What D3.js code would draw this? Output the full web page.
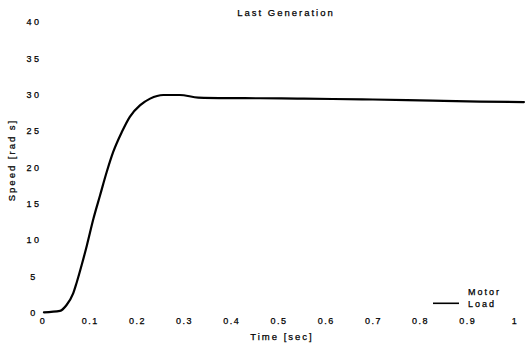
<!DOCTYPE html>
<html>
<head>
<meta charset="utf-8">
<script src="https://cdn.jsdelivr.net/npm/d3@7"></script>
<style>
  html, body { margin: 0; padding: 0; background: #fff; }
  svg { display: block; }
  text { font-family: "Liberation Sans", Arial, Helvetica, sans-serif; fill: #000; stroke: #000; stroke-width: 0.25px; }
</style>
</head>
<body>
<svg id="chart" width="529" height="347"></svg>
<script>
// Speed response of the best controller in the final generation
const timeSec = [0.003, 0.037, 0.051, 0.065, 0.072, 0.083, 0.094, 0.108, 0.122, 0.136,
                 0.150, 0.168, 0.185, 0.207, 0.228, 0.256, 0.291, 0.330, 0.400, 0.461,
                 0.540, 0.615, 0.700, 0.772, 0.850, 0.927, 1.020];
const loadSpeed = [0.0, 0.2, 1.0, 2.6, 4.0, 6.5, 9.2, 12.9, 16.1, 19.3,
                   22.1, 24.8, 26.9, 28.5, 29.4, 29.9, 29.9, 29.55, 29.47, 29.45,
                   29.4, 29.35, 29.28, 29.2, 29.1, 29.0, 28.93];
const xTicks = [0, 0.1, 0.2, 0.3, 0.4, 0.5, 0.6, 0.7, 0.8, 0.9, 1];
const xTickLabels = ["0", "0.1", "0.2", "0.3", "0.4", "0.5", "0.6", "0.7", "0.8", "0.9", "1"];
const yTicks = [0, 5, 10, 15, 20, 25, 30, 35, 40];
const legendNames = ["Motor", "Load"];

const svg = d3.select("#chart");

const x = d3.scaleLinear().domain([0, 1]).range([42.5, 514.5]);
const y = d3.scaleLinear().domain([0, 40]).range([312.3, 21.6]);

// Axes drawn as labels only (no domain line, no tick marks)
const xAxis = d3.axisBottom(x)
  .tickValues(xTicks)
  .tickSize(0)
  .tickPadding(0)
  .tickFormat((d, i) => xTickLabels[i]);
const gx = svg.append("g").attr("transform", "translate(0,318)").call(xAxis);
gx.select(".domain").remove();
gx.selectAll("text")
  .attr("fill", "#000")
  .style("font-size", "9px")
  .style("letter-spacing", "1.5px")
  .attr("dy", "0.71em");

const yAxis = d3.axisLeft(y)
  .tickValues(yTicks)
  .tickSize(0)
  .tickPadding(0)
  .tickFormat(d3.format("d"));
const gy = svg.append("g").attr("transform", "translate(34,0)").call(yAxis);
gy.select(".domain").remove();
gy.selectAll("text")
  .attr("fill", "#000")
  .attr("text-anchor", "middle")
  .attr("dy", "0.35em")
  .style("font-size", "9px")
  .style("letter-spacing", "2.5px");

// Speed curve
const line = d3.line()
  .x((d, i) => x(timeSec[i]))
  .y(d => y(d))
  .curve(d3.curveMonotoneX);

svg.append("path")
  .datum(loadSpeed)
  .attr("fill", "none")
  .attr("stroke", "#000")
  .attr("stroke-width", 2.2)
  .attr("stroke-linejoin", "round")
  .attr("stroke-linecap", "round")
  .attr("d", line);

// Titles
svg.append("text")
  .attr("x", 286).attr("y", 15.7)
  .attr("text-anchor", "middle")
  .style("font-size", "9.5px")
  .style("letter-spacing", "2px")
  .text("Last Generation");

svg.append("text")
  .attr("x", 282).attr("y", 340)
  .attr("text-anchor", "middle")
  .style("font-size", "9.5px")
  .style("letter-spacing", "2px")
  .text("Time [sec]");

svg.append("text")
  .attr("transform", "translate(15,160) rotate(-90)")
  .attr("text-anchor", "middle")
  .style("font-size", "9.5px")
  .style("letter-spacing", "2px")
  .text("Speed [rad s]");

// Legend
const legend = svg.append("g").attr("transform", "translate(468,295)");
legend.selectAll("text")
  .data(legendNames)
  .enter().append("text")
  .attr("x", 0)
  .attr("y", (d, i) => i * 11.5)
  .style("font-size", "9px")
  .style("letter-spacing", "2px")
  .text(d => d);
legend.append("line")
  .attr("x1", -35).attr("x2", -9)
  .attr("y1", 8.3).attr("y2", 8.3)
  .attr("stroke", "#000")
  .attr("stroke-width", 1.6);
</script>
</body>
</html>
